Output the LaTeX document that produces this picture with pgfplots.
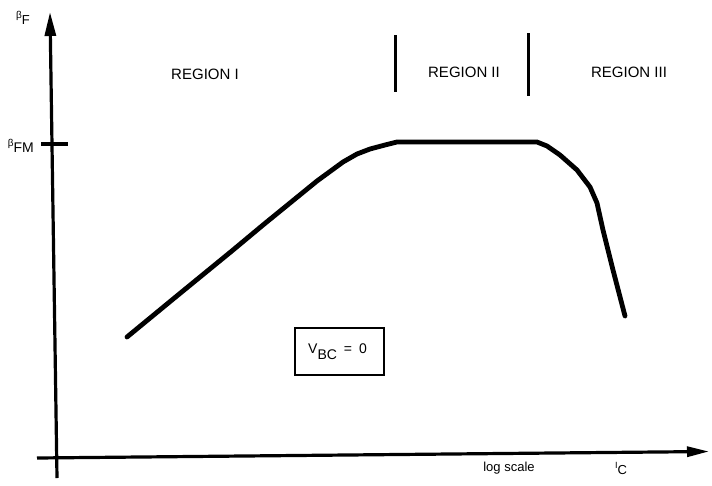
\documentclass[border=0pt]{standalone}
\usepackage{pgfplots}
\pgfplotsset{compat=1.18}
\usetikzlibrary{arrows.meta}
\usepackage{fontspec}
\setmainfont{Liberation Sans}

\begin{document}
\begin{tikzpicture}
\begin{axis}[
  width=712pt, height=485pt, scale only axis,
  xmin=0, xmax=712, ymin=0, ymax=485, y dir=reverse,
  axis lines=none, clip=false,
]
\coordinate (corner a) at (rel axis cs:0,0);
\coordinate (corner b) at (rel axis cs:1,1);

% beta_F versus collector current (log scale)
\addplot[black, line width=4.8pt, line join=round, line cap=round] coordinates {
  (127,337) (175,297.5) (230,252.5) (263,225) (290,203) (317,181) (343,162)
  (357,154) (370,149) (385,145) (397,142) (537,142) (547,146) (560,155)
  (577,170) (590,187) (597,203) (603,230) (613,270) (625,316)
};

% axes
\draw[line width=3.2pt, -{Triangle[length=24pt,width=11pt]}] (axis cs:57,478) -- (axis cs:50,12);
\draw[line width=3.2pt, -{Triangle[length=22pt,width=10pt]}] (axis cs:37,458) -- (axis cs:709,451.5);
\draw[line width=3.2pt] (axis cs:41,144) -- (axis cs:68,144);

% region separators
\draw[line width=3pt] (axis cs:395,35) -- (axis cs:395,92);
\draw[line width=3pt] (axis cs:528,33) -- (axis cs:528,96);

% labels
\node[font=\fontsize{15}{17}\selectfont] at (axis cs:205,74) {REGION I};
\node[font=\fontsize{15}{17}\selectfont] at (axis cs:464,72) {REGION II};
\node[font=\fontsize{15}{17}\selectfont] at (axis cs:629,72) {REGION III};

\node[anchor=base west, inner sep=0pt] at (axis cs:16,18)
  {{\fontsize{10}{10}\selectfont β}\raisebox{-6pt}{\fontsize{13}{13}\selectfont F}};
\node[anchor=base east, inner sep=0pt] at (axis cs:34,146)
  {{\fontsize{10}{10}\selectfont β}\raisebox{-6pt}{\fontsize{14}{14}\selectfont FM}};

\node[font=\fontsize{13}{15}\selectfont] at (axis cs:509,468) {log scale};
\node[anchor=base west, inner sep=0pt] at (axis cs:615,468)
  {{\fontsize{9}{9}\selectfont I}\raisebox{-6pt}{\fontsize{13}{13}\selectfont C}};

% operating condition
\draw[line width=2.2pt] (axis cs:295,328) rectangle (axis cs:384,375);
\node[anchor=base west, inner sep=0pt] at (axis cs:308,353)
  {\fontsize{14}{14}\selectfont V\raisebox{-6pt}{BC}\hspace{7pt}=\hspace{7pt}0};
\end{axis}
\pgfresetboundingbox
\path[use as bounding box] (corner a) rectangle (corner b);
\end{tikzpicture}
\end{document}
